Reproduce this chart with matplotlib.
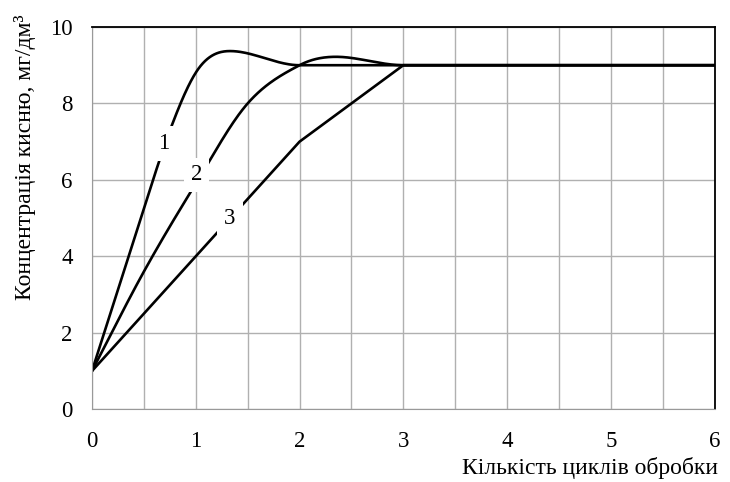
import numpy as np
import matplotlib.pyplot as plt

# data
x1 = [0, 0.4, 0.77, 1.04, 1.33, 2, 3, 4, 5, 6]
y1 = [1, 4.4, 7.43, 8.96, 9.37, 9.0, 9.0, 9.0, 9.0, 9.0]
x2 = [0, 0.5, 1, 1.5, 2, 2.35, 3, 4, 5, 6]
y2 = [1, 3.6, 5.9, 8.0, 9.0, 9.22, 9.0, 9.0, 9.0, 9.0]
x3 = [0, 1, 2, 3, 4, 5, 6]
y3 = [1, 4.0, 7.0, 9.0, 9.0, 9.0, 9.0]
curve_labels = ['1', '2', '3']
label_pos = [(0.69, 6.96), (1.01, 6.13), (1.33, 5.0)]


def smooth(x, y, n=40):
    # hermite smoothing (catmull-rom tangents, flat at extrema, no overshoot)
    x = np.asarray(x, float)
    y = np.asarray(y, float)
    d = np.diff(y) / np.diff(x)
    m = np.zeros_like(y)
    m[1:-1] = (y[2:] - y[:-2]) / (x[2:] - x[:-2])
    m[0], m[-1] = d[0], d[-1]
    for i in range(1, len(y) - 1):
        if d[i - 1] * d[i] <= 0:
            m[i] = 0
    for i in range(len(d)):
        if d[i] == 0:
            m[i] = m[i + 1] = 0
            continue
        a, b = m[i] / d[i], m[i + 1] / d[i]
        if a * a + b * b > 9:
            t = 3 / np.sqrt(a * a + b * b)
            m[i], m[i + 1] = t * a * d[i], t * b * d[i]
    xs, ys = [], []
    for i in range(len(x) - 1):
        h = x[i + 1] - x[i]
        t = np.linspace(0, 1, n, endpoint=False)
        h00 = 2 * t**3 - 3 * t**2 + 1
        h10 = t**3 - 2 * t**2 + t
        h01 = -2 * t**3 + 3 * t**2
        h11 = t**3 - t**2
        xs.append(x[i] + t * h)
        ys.append(h00 * y[i] + h10 * h * m[i] + h01 * y[i + 1] + h11 * h * m[i + 1])
    xs.append([x[-1]])
    ys.append([y[-1]])
    return np.concatenate(xs), np.concatenate(ys)


plt.rcParams['font.family'] = ['Liberation Serif', 'DejaVu Serif']
fig = plt.figure(figsize=(7.3, 4.82), dpi=100)
ax = fig.add_axes([0.126, 0.151, 0.853, 0.793])

sx1, sy1 = smooth(x1, y1)
sx2, sy2 = smooth(x2, y2)
ax.plot(sx1, sy1, color='black', lw=1.9, zorder=2)
ax.plot(sx2, sy2, color='black', lw=1.9, zorder=2)
ax.plot(x3, y3, color='black', lw=1.9, zorder=2)

for lab, (lx, ly) in zip(curve_labels, label_pos):
    ax.text(lx, ly, lab, fontsize=16.5, ha='center', va='center', zorder=3,
            bbox=dict(facecolor='white', edgecolor='none', pad=5))

ax.set_xlim(0, 6)
ax.set_ylim(0, 10)
ax.set_xticks(np.arange(0, 6.01, 1))
ax.set_xticks(np.arange(0, 6.01, 0.5), minor=True)
ax.set_yticks(np.arange(0, 10.01, 2))
ax.grid(which='both', axis='x', color='#b0b0b0', lw=1, zorder=0)
ax.grid(which='major', axis='y', color='#b0b0b0', lw=1, zorder=0)
ax.set_axisbelow(True)
ax.tick_params(which='both', length=0, labelsize=16.5)
ax.tick_params(axis='x', pad=16)
ax.tick_params(axis='y', pad=14)

for s in ['left', 'bottom']:
    ax.spines[s].set_color('#999999')
for s in ['top', 'right']:
    ax.spines[s].set_color('black')
    ax.spines[s].set_linewidth(1.3)

ax.set_xlabel('Кількість циклів обробки', fontsize=17)
ax.xaxis.set_label_coords(1.005, -0.125)
ax.xaxis.label.set_ha('right')
ax.set_ylabel('Концентрація кисню, мг/дм³', fontsize=17)
ax.yaxis.set_label_coords(-0.09, 0.66)

fig.savefig('out.png', dpi=100)
